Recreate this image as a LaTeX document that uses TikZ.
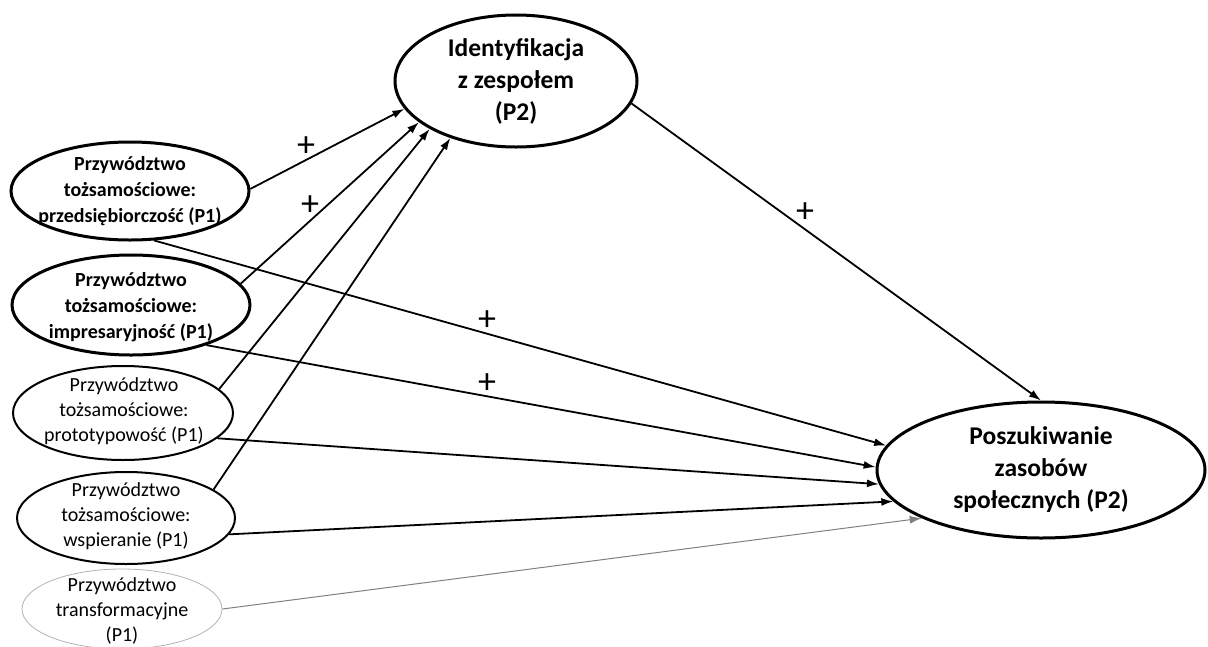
\documentclass[tikz,border=0pt]{standalone}
\usepackage{fontspec}
\setmainfont{Carlito}
\usetikzlibrary{shapes.geometric,arrows.meta}

\begin{document}
\begin{tikzpicture}[x=1pt,y=-1pt,
    heavyell/.style={ellipse,draw,line width=3pt,inner sep=0pt},
    plainell/.style={ellipse,draw,line width=2pt,inner sep=0pt},
    greyell/.style={ellipse,draw=gray!60,line width=0.8pt,inner sep=0pt},
    boldtxt/.style={font=\fontsize{20}{26}\selectfont\bfseries,align=center},
    normtxt/.style={font=\fontsize{20}{25}\selectfont,align=center},
    bigtxt/.style={font=\fontsize{25.5}{32}\selectfont\bfseries,align=center},
    plus/.style={font=\fontsize{36}{36}\selectfont},
    link/.style={line width=1.8pt,-{Latex[length=12pt,width=8pt]}},
    greylink/.style={draw=gray,line width=1pt,-{Latex[length=12pt,width=8pt]}}]
\useasboundingbox (0,0) rectangle (1208,646);

% Outcome variables
\node[heavyell,minimum width=242,minimum height=132] (idn) at (516,81) {};
\node[bigtxt] (idn-t) at (idn) {Identyfikacja\\z zespołem\\(P2)};
\node[heavyell,minimum width=328,minimum height=136] (psz) at (1041,470) {};
\node[bigtxt] (psz-t) at (psz) {Poszukiwanie\\zasobów\\społecznych (P2)};

% Leadership variables
\node[heavyell,minimum width=238,minimum height=98] (prz) at (130,191) {};
\node[boldtxt] (prz-t) at (130,191) {Przywództwo\\tożsamościowe:\\przedsiębiorczość (P1)};
\node[heavyell,minimum width=238,minimum height=100] (imp) at (131,305) {};
\node[boldtxt] (imp-t) at (131,307) {Przywództwo\\tożsamościowe:\\impresaryjność (P1)};
\node[plainell,minimum width=220,minimum height=94] (pro) at (123,413) {};
\node[normtxt] (pro-t) at (124,411) {Przywództwo\\tożsamościowe:\\prototypowość (P1)};
\node[plainell,minimum width=218,minimum height=92] (wsp) at (126,518) {};
\node[normtxt] (wsp-t) at (126,516) {Przywództwo\\tożsamościowe:\\wspieranie (P1)};
\node[greyell,minimum width=200,minimum height=80] (trn) at (122,609) {};
\node[normtxt] (trn-t) at (122,611) {Przywództwo\\transformacyjne\\(P1)};

% Paths to identification
\draw[link] (prz.1) -- (idn.194);
\draw[link] (imp.11) -- (idn.203);
\draw[link] (pro.14) -- (idn.209);
\draw[link] (wsp.18) -- (idn.221);

% Paths to social resources
\draw[link] (prz.296) -- (psz.171.6);
\draw[link] (imp.332) -- (psz.179.3);
\draw[link] (pro.345) -- (psz.185.7);
\draw[link] (wsp.351) -- (psz.192);
\draw[greylink] (trn.0) -- (psz.202.5);
\draw[link] (idn.349.7) -- (psz.90);

% Signs
\node[plus] (s1) at (306,147) {+};
\node[plus] (s2) at (310,206) {+};
\node[plus] (s3) at (487,321) {+};
\node[plus] (s4) at (487,384) {+};
\node[plus] (s5) at (805,213) {+};

\end{tikzpicture}
\end{document}
